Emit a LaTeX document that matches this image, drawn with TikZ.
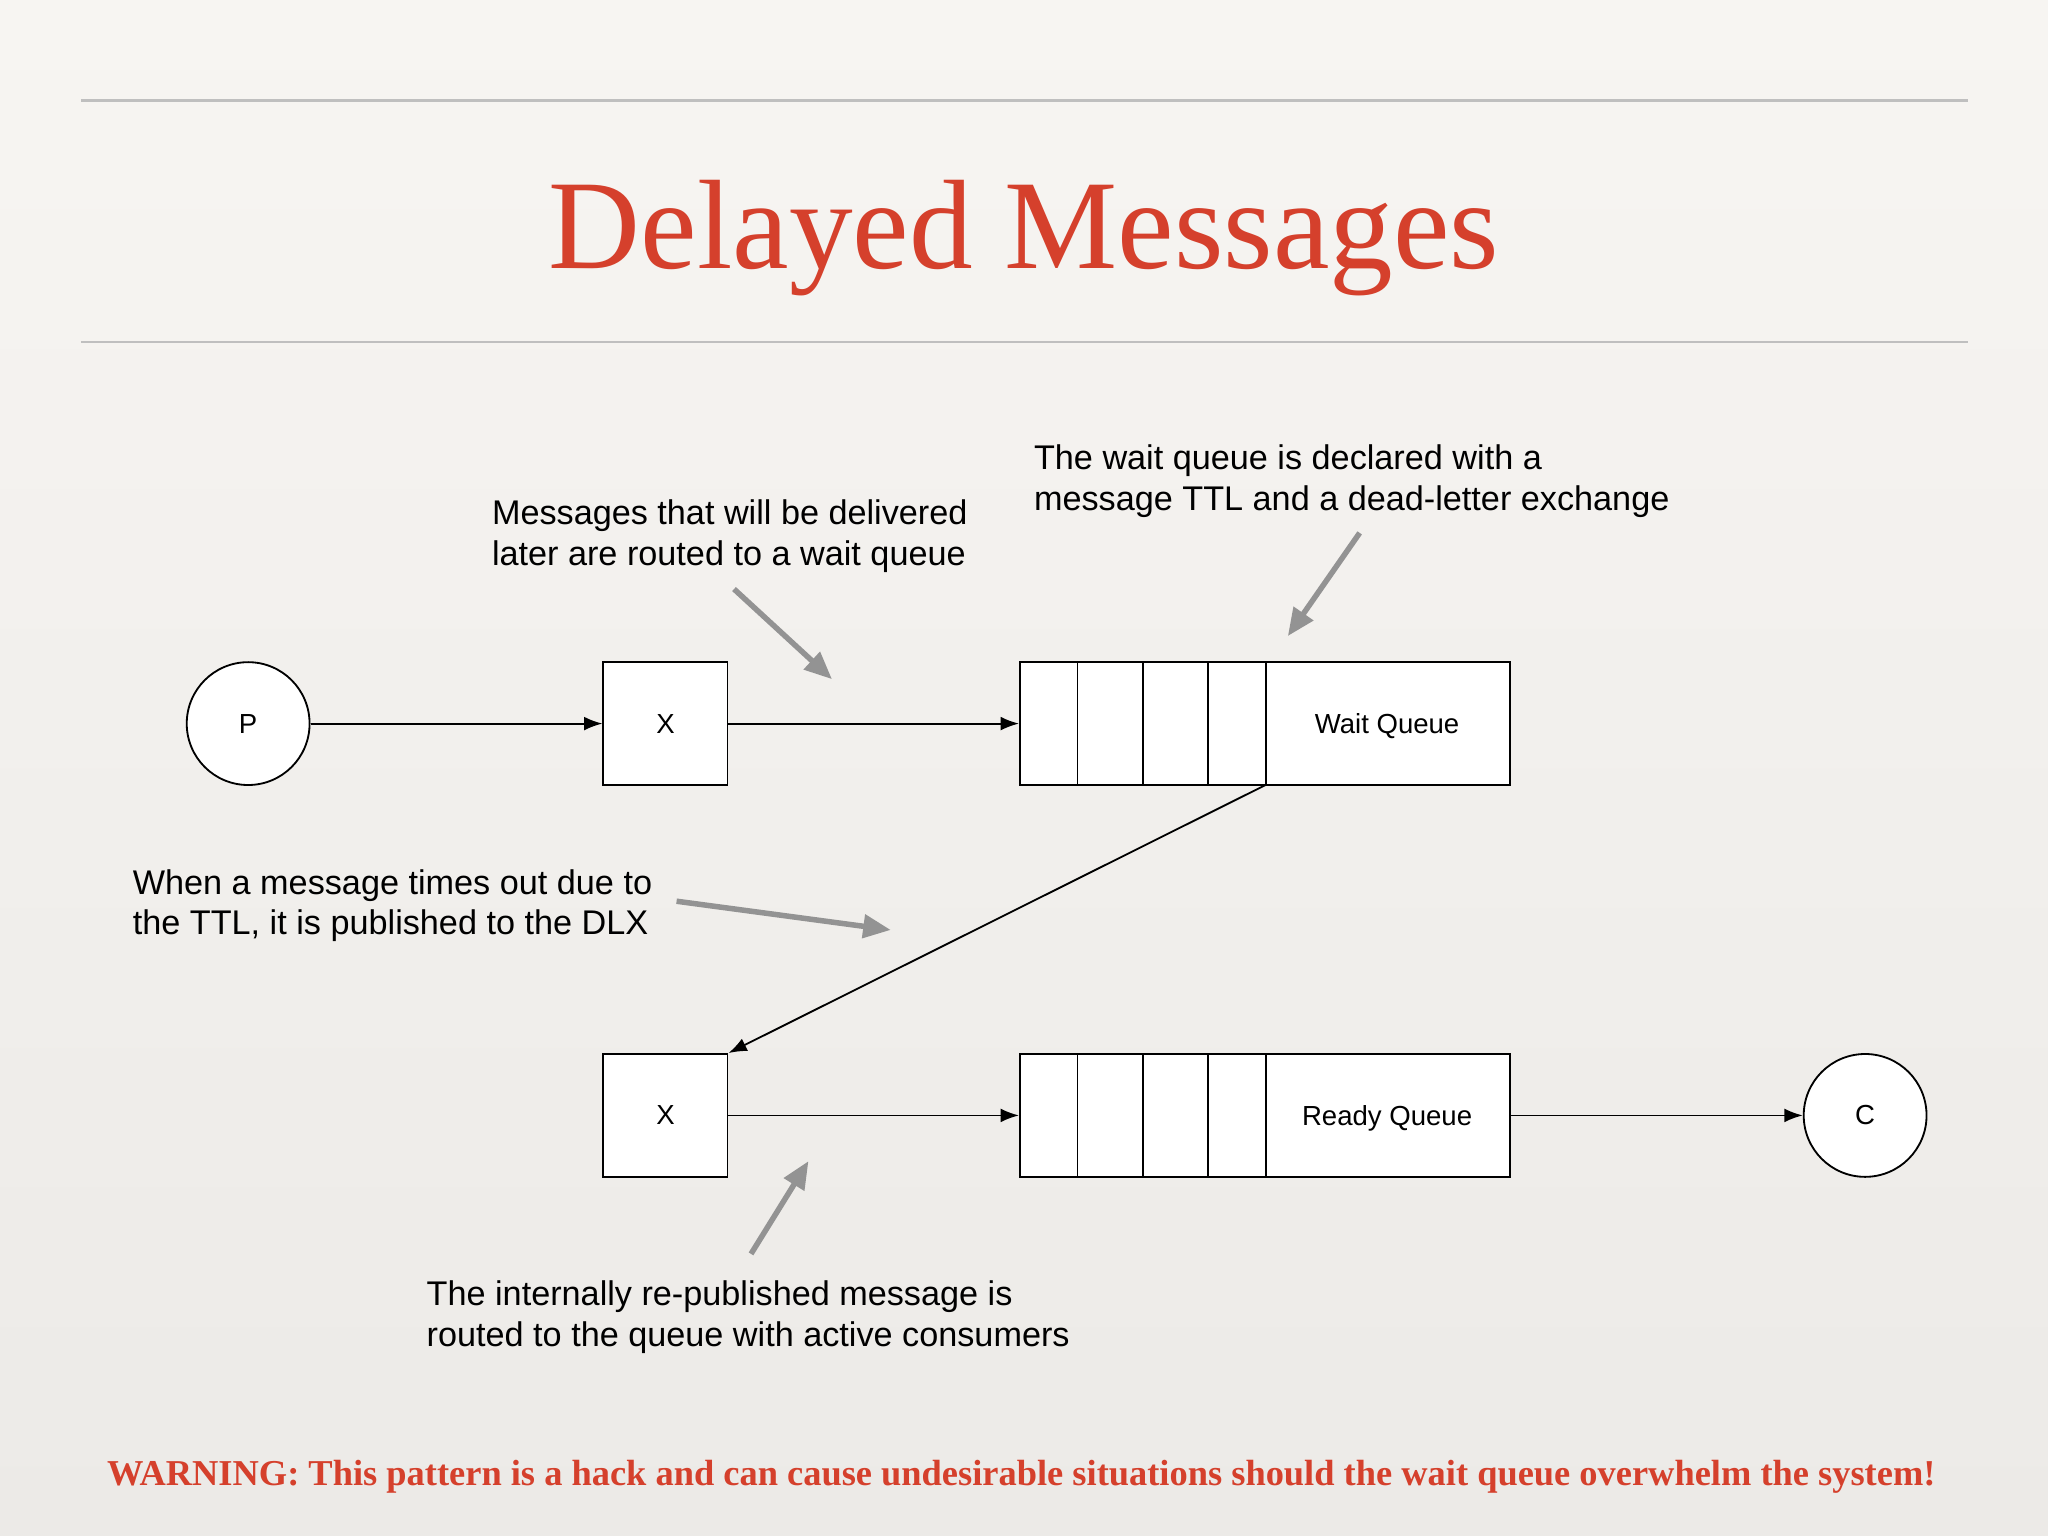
\documentclass[tikz,border=0pt]{standalone}
\usepackage{fontspec}
\setmainfont{Liberation Serif}
\setsansfont{Liberation Sans}
\usetikzlibrary{arrows.meta}
\definecolor{tred}{HTML}{D5402C}
\definecolor{bgA}{HTML}{F7F5F2}
\definecolor{bgB}{HTML}{ECEAE7}
\begin{document}
\begin{tikzpicture}[x=0.01cm,y=-0.01cm,
  lbl/.style={font=\sffamily\fontsize{7.45}{8.8}\selectfont,align=left,inner sep=0,anchor=north west},
  small/.style={font=\sffamily\fontsize{6}{7}\selectfont},
  circ/.style={draw,fill=white,circle,minimum size=0.94cm,inner sep=0,line width=0.4pt,small},
  sq/.style={draw,fill=white,minimum width=0.95cm,minimum height=0.94cm,inner sep=0,line width=0.4pt,small},
  qu/.style={draw,fill=white,minimum width=3.75cm,minimum height=0.94cm,inner sep=0,line width=0.4pt},
  ga/.style={draw=gray!85,line width=1.2pt,-{Triangle[length=6pt,width=5pt]}},
  ka/.style={line width=0.4pt,-{Latex[length=4pt,width=3pt]}}]
\shade[top color=bgA,bottom color=bgB,middle color=bgB!50!bgA] (0,0) rectangle (1568,1176);
\useasboundingbox (0,0) rectangle (1568,1176);
\draw[gray!50,line width=0.5pt] (62,77) -- (1507,77) (62,262) -- (1507,262);
\node[text=tred,font=\fontsize{27.7}{32}\selectfont] (title) at (784,182) {Delayed Messages};
% shapes
\node[circ] (P) at (190,554) {P};
\node[sq] (X1) at (509.5,554) {X};
\node[qu] (WQ) at (968.5,554) {};
\node[small] (wqt) at (1062,556) {Wait Queue};
\node[sq] (X2) at (509.5,854) {X};
\node[qu] (RQ) at (968.5,854) {};
\node[small] (rqt) at (1062,856) {Ready Queue};
\node[circ] (C) at (1428,854) {C};
\foreach \x in {825,875,925,969}{
  \draw[line width=0.4pt] (\x,507) -- (\x,601);
  \draw[line width=0.4pt] (\x,807) -- (\x,901);}
\coordinate (wqb) at (969,601);
\draw[ka] (P) -- (X1);
\draw[ka] (X1) -- (WQ);
\draw[ka] (wqb) -- (X2.north east);
\draw[ka] (X2) -- (RQ);
\draw[ka] (RQ) -- (C);
% labels
\node[lbl] (t1) at (376,382) {Messages that will be delivered\\later are routed to a wait queue};
\node[lbl] (t2) at (791,340) {The wait queue is declared with a\\message TTL and a dead-letter exchange};
\node[lbl] (t3) at (101,665) {When a message times out due to\\the TTL, it is published to the DLX};
\node[lbl] (t4) at (326,980) {The internally re-published message is\\routed to the queue with active consumers};
\coordinate (a1s) at (562,451); \coordinate (a1e) at (637,520);
\coordinate (a2s) at (1041,408); \coordinate (a2e) at (986,487);
\coordinate (a3s) at (518,690); \coordinate (a3e) at (682,712);
\coordinate (a4s) at (575,960); \coordinate (a4e) at (619,889);
\draw[ga] (a1s) -- (a1e);
\draw[ga] (a2s) -- (a2e);
\draw[ga] (a3s) -- (a3e);
\draw[ga] (a4s) -- (a4e);
\node[text=tred,font=\bfseries\fontsize{7.93}{9}\selectfont] (warn) at (782,1131) {WARNING: This pattern is a hack and can cause undesirable situations should the wait queue overwhelm the system!};
\end{tikzpicture}
\end{document}
